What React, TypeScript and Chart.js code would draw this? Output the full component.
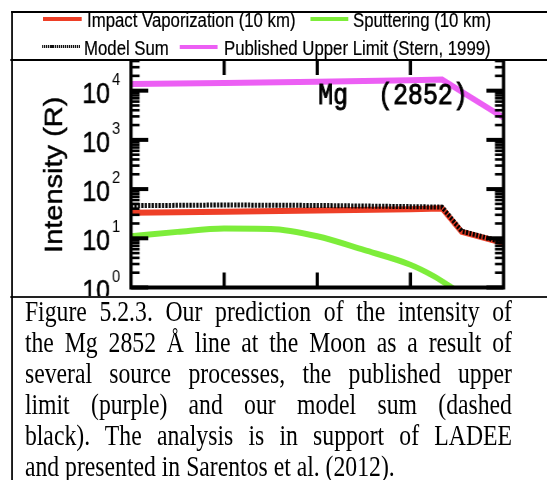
import React, { useEffect, useRef } from "react";
import { Chart, registerables } from "chart.js";

Chart.register(...registerables);

// The whole figure is laid out on a wider stage and squeezed horizontally.
const SQUEEZE = 0.86;
const STAGE_W = 636;
const STAGE_H = 480;
const CANVAS_H = 300;

// Axis settings
const xMin = 0;
const xMax = 4;
const xTicks = [1, 2, 3];
const yMin = 1;
const yMax = 42000;
const yDecades = [0, 1, 2, 3, 4];

// Series
const impactX = [0, 1, 2, 3, 3.34, 3.55, 4];
const impactY = [33, 34.5, 36.5, 39, 40.5, 13.5, 8];

const sputterX = [0, 0.5, 1, 1.5, 2, 2.5, 3, 3.25, 3.5];
const sputterY = [11, 13.5, 15.8, 15.5, 11, 5.8, 2.9, 1.7, 0.85];

const sumX = [0, 1, 2, 3, 3.34, 3.55, 4];
const sumY = [46, 47.5, 46.5, 44, 43, 14, 8.2];

const limitX = [0, 1, 2, 3, 3.34, 4];
const limitY = [13600, 14300, 15200, 16300, 16800, 2830];

const seriesLabels = [
  "Impact Vaporization (10 km)",
  "Sputtering (10 km)",
  "Model Sum",
  "Published Upper Limit (Stern, 1999)",
];
const yTitle = "Intensity (R)";
const lineLabel = "Mg  (2852)";

const captionLines = [
  "Figure 5.2.3. Our prediction of the intensity of",
  "the Mg 2852 Å line at the Moon as a result of",
  "several source processes, the published upper",
  "limit (purple) and our model sum (dashed",
  "black). The analysis is in support of LADEE",
  "and presented in Sarentos et al. (2012).",
];

const RED = "#ee3f27";
const GREEN = "#7ded3a";
const MAGENTA = "#ec5ff4";

const SANS = '"Liberation Sans", Arial, Helvetica, sans-serif';
const SERIF = '"Liberation Serif", "Times New Roman", serif';
const MONO = '"Liberation Mono", "Courier New", monospace';

const pts = (xs: number[], ys: number[]) => xs.map((x, i) => ({ x, y: ys[i] }));

// Box frame with inward ticks, tick labels, axis title and line label
const framePlugin = {
  id: "frame",
  afterDatasetsDraw(chart: any) {
    const { ctx, chartArea: a } = chart;
    const xs = chart.scales.x;
    const ys = chart.scales.y;
    ctx.save();
    ctx.fillStyle = "#000";
    ctx.strokeStyle = "#000";

    // y ticks (major + log minors) on both sides
    for (const d of yDecades) {
      for (let k = 1; k <= 9; k++) {
        const v = k * Math.pow(10, d);
        if (v > yMax) break;
        const py = ys.getPixelForValue(v);
        const len = k === 1 ? 20 : 10;
        const t = k === 1 ? 4 : 2.6;
        ctx.fillRect(a.left, py - t / 2, len, t);
        ctx.fillRect(a.right - len, py - t / 2, len, t);
      }
    }
    // x ticks top and bottom
    for (const v of xTicks) {
      const px = xs.getPixelForValue(v);
      ctx.fillRect(px - 1.9, a.bottom - 15, 3.8, 15);
      ctx.fillRect(px - 1.9, a.top, 3.8, 15);
    }
    // axis lines
    ctx.lineWidth = 3.8;
    ctx.lineCap = "square";
    ctx.beginPath();
    ctx.moveTo(a.left, a.top);
    ctx.lineTo(a.left, a.bottom);
    ctx.lineTo(a.right, a.bottom);
    ctx.lineTo(a.right, a.top);
    ctx.stroke();

    // y tick labels: 10 with superscript exponent
    ctx.lineWidth = 0.5;
    for (const d of yDecades) {
      const py = ys.getPixelForValue(Math.pow(10, d));
      ctx.font = `29px ${SANS}`;
      ctx.textAlign = "right";
      ctx.textBaseline = "alphabetic";
      ctx.fillText("10", a.left - 24.4, py + 12);
      ctx.strokeText("10", a.left - 24.4, py + 12);
      ctx.font = `17px ${SANS}`;
      ctx.textAlign = "left";
      ctx.fillText(String(d), a.left - 22.1, py - 6);
    }

    // y axis title
    ctx.save();
    ctx.translate(64, (a.top + a.bottom) / 2 + 1);
    ctx.rotate(-Math.PI / 2);
    ctx.font = `29px ${SANS}`;
    ctx.textAlign = "center";
    ctx.textBaseline = "middle";
    ctx.fillText(yTitle, 0, 0);
    ctx.strokeText(yTitle, 0, 0);
    ctx.restore();

    // emission line label
    ctx.font = `29px ${MONO}`;
    ctx.textAlign = "left";
    ctx.textBaseline = "alphabetic";
    ctx.lineWidth = 0.9;
    const lx = xs.getPixelForValue(2) + 1;
    const ly = ys.getPixelForValue(10000) + 13;
    ctx.fillText(lineLabel, lx, ly);
    ctx.strokeText(lineLabel, lx, ly);

    ctx.restore();
  },
};

export default function App() {
  const canvasRef = useRef<HTMLCanvasElement>(null);

  useEffect(() => {
    const chart = new Chart(canvasRef.current as HTMLCanvasElement, {
      type: "line",
      data: {
        datasets: [
          {
            label: seriesLabels[2],
            data: pts(sumX, sumY),
            borderColor: "#000",
            borderWidth: 5,
            borderDash: [2.5, 1.5],
            pointRadius: 0,
            tension: 0,
            order: 0,
          },
          {
            label: seriesLabels[0],
            data: pts(impactX, impactY),
            borderColor: RED,
            borderWidth: 6,
            pointRadius: 0,
            tension: 0,
            order: 1,
          },
          {
            label: seriesLabels[1],
            data: pts(sputterX, sputterY),
            borderColor: GREEN,
            borderWidth: 6,
            pointRadius: 0,
            cubicInterpolationMode: "monotone",
            order: 2,
          },
          {
            label: seriesLabels[3],
            data: pts(limitX, limitY),
            borderColor: MAGENTA,
            borderWidth: 6,
            pointRadius: 0,
            tension: 0,
            order: 3,
          },
        ],
      },
      options: {
        animation: false,
        responsive: false,
        devicePixelRatio: 1,
        events: [],
        layout: { padding: { left: 152.3, right: STAGE_W - 585.5, top: 60, bottom: CANVAS_H - 287.5 } },
        plugins: { legend: { display: false }, tooltip: { enabled: false } },
        scales: {
          x: { type: "linear", min: xMin, max: xMax, display: false },
          y: { type: "logarithmic", min: yMin, max: yMax, display: false },
        },
      },
      plugins: [framePlugin],
    });
    return () => chart.destroy();
  }, []);

  const text = (left: number, top: number, s: string) => (
    <span
      style={{
        position: "absolute",
        left,
        top,
        font: `19.5px ${SANS}`,
        lineHeight: "19.5px",
        whiteSpace: "nowrap",
        color: "#000",
        WebkitTextStroke: "0.2px #000",
      }}
    >
      {s}
    </span>
  );
  const swatch = (left: number, width: number, cy: number, h: number, bg: string) => (
    <div style={{ position: "absolute", left, top: cy - h / 2, width, height: h, background: bg }} />
  );

  return (
    <div
      style={{
        position: "absolute",
        left: 0,
        top: 0,
        width: STAGE_W,
        height: STAGE_H,
        overflow: "hidden",
        background: "#fff",
        transform: `scaleX(${SQUEEZE})`,
        transformOrigin: "0 0",
      }}
    >
      <canvas
        ref={canvasRef}
        width={STAGE_W}
        height={CANVAS_H}
        style={{ position: "absolute", left: 0, top: 0, width: STAGE_W, height: CANVAS_H }}
      />
      {/* legend panel */}
      <div style={{ position: "absolute", left: 12, top: 11, width: 700, height: 50, background: "#fff" }} />
      {swatch(50, 45.3, 19, 3.5, RED)}
      {text(101.2, 10.5, seriesLabels[0])}
      {swatch(360.5, 44.2, 19, 3.5, GREEN)}
      {text(410.5, 10.5, seriesLabels[1])}
      {swatch(48.8, 44.2, 46.7, 2.6, "repeating-linear-gradient(90deg, #111 0 1.3px, #bbb 1.3px 2.4px)")}
      {text(97.7, 38.5, seriesLabels[2])}
      {swatch(209.3, 44.2, 47, 3.5, MAGENTA)}
      {text(260.5, 38.5, seriesLabels[3])}
      <div style={{ position: "absolute", left: 12, top: 59.2, width: 700, height: 1.8, background: "#000" }} />

      {/* caption panel */}
      <div style={{ position: "absolute", left: 12, top: 296, width: 700, height: 200, background: "#fff" }} />
      <div style={{ position: "absolute", left: 12, top: 296, width: 700, height: 2.2, background: "#222" }} />
      <div
        style={{
          position: "absolute",
          left: 29,
          top: 296,
          width: 566.3 / 0.95,
          transform: "scaleX(0.95)",
          transformOrigin: "0 0",
        }}
      >
        {captionLines.map((line, i) => (
          <div
            key={i}
            style={{
              font: `29px ${SERIF}`,
              lineHeight: "31px",
              height: 31,
              whiteSpace: "nowrap",
              textAlign: i < captionLines.length - 1 ? "justify" : "left",
              textAlignLast: i < captionLines.length - 1 ? "justify" : "left",
              color: "#000",
            }}
          >
            {line}
          </div>
        ))}
      </div>

      {/* outer frame */}
      <div
        style={{
          position: "absolute",
          left: 12.8,
          top: 11,
          width: 700,
          height: 600,
          borderLeft: "2.6px solid #000",
          borderTop: "2px solid #000",
          pointerEvents: "none",
        }}
      />
    </div>
  );
}
